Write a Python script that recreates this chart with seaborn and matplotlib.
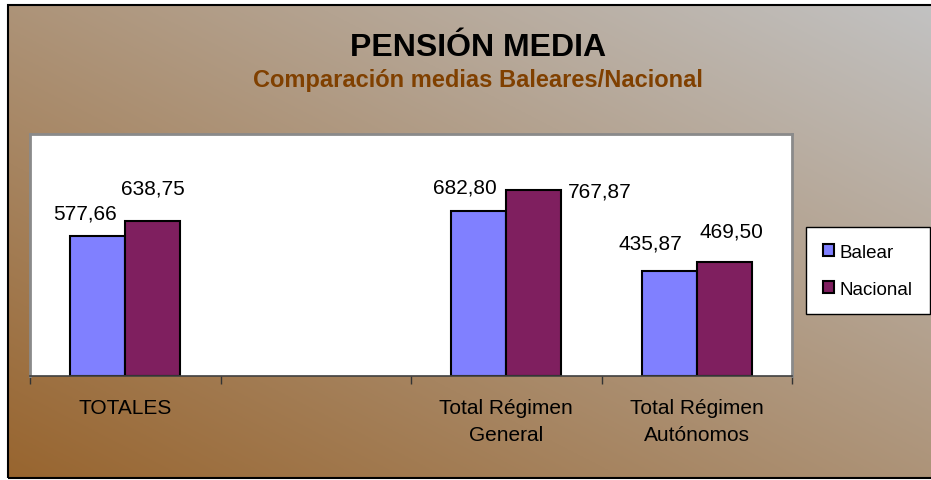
import numpy as np
import pandas as pd
import matplotlib
matplotlib.use("Agg")
import matplotlib.pyplot as plt
import seaborn as sns
from matplotlib.colors import to_rgb
from matplotlib.patches import Rectangle

# ---- data ----
categories = ["TOTALES", " ", "Total Régimen\nGeneral", "Total Régimen\nAutónomos"]
series = ["Balear", "Nacional"]
balear = [577.66, np.nan, 682.80, 435.87]
nacional = [638.75, np.nan, 767.87, 469.50]

title = "PENSIÓN MEDIA"
subtitle = "Comparación medias Baleares/Nacional"

# ---- style ----
sns.set_theme(style="white")
plt.rcParams["font.family"] = ["Liberation Sans", "DejaVu Sans"]

colors = ["#8080FF", "#7F1F5F"]
# label offsets (pixels) relative to the top centre of each bar, by category index
label_offsets = [
    {0: (-13, 18), 2: (-14, 18), 3: (-19, 22)},
    {0: (0, 28), 2: (66, -6), 3: (7, 26)},
]

W, H = 931, 481
fig = plt.figure(figsize=(W / 100, H / 100), dpi=100, facecolor="white")

# gradient background
bg = fig.add_axes([8 / W, 2 / H, (W - 8) / W, 473 / H])
n = 300
xx, yy = np.meshgrid(np.linspace(0, 1, n), np.linspace(0, 1, n))
t = (xx + yy) / 2.0
c0 = np.array(to_rgb("#98652F"))
c1 = np.array(to_rgb("#C2C2C2"))
img = c0[None, None, :] * (1 - t[..., None]) + c1[None, None, :] * t[..., None]
bg.imshow(img, origin="lower", extent=[0, 1, 0, 1], aspect="auto")
bg.axis("off")
fig.add_artist(Rectangle((8 / W, 2 / H), 2, 473 / H, transform=fig.transFigure,
                         fill=False, edgecolor="black", linewidth=1.5))

# main axes
ax = fig.add_axes([30 / W, (481 - 377) / H, (792 - 30) / W, (377 - 135) / H])
ax.set_facecolor("white")

df = pd.DataFrame({
    "categoria": categories * 2,
    "serie": [series[0]] * len(categories) + [series[1]] * len(categories),
    "valor": balear + nacional,
})

sns.barplot(data=df, x="categoria", y="valor", hue="serie", order=categories,
            hue_order=series, palette=colors, width=0.577, gap=0,
            edgecolor="black", linewidth=1.5, saturation=1, errorbar=None,
            ax=ax)

# value labels
for ci, cont in enumerate(ax.containers):
    for bar in cont:
        h = bar.get_height()
        if np.isnan(h):
            continue
        xc = bar.get_x() + bar.get_width() / 2
        idx = int(round(xc))
        dx, dy = label_offsets[ci].get(idx, (0, 18))
        ax.annotate(f"{h:.2f}".replace(".", ","), xy=(xc, h),
                    xytext=(dx, dy), textcoords="offset pixels",
                    ha="center", va="baseline", fontsize=15, color="black")

ax.set_xlim(-0.5, len(categories) - 0.5)
ax.set_ylim(0, 1000)
ax.set_yticks([])
ax.set_xlabel("")
ax.set_ylabel("")

ax.set_xticks(np.arange(-0.5, len(categories) + 0.5, 1), minor=True)
ax.tick_params(axis="x", which="minor", bottom=True, length=6, width=1,
               color="#333333", direction="out")
ax.tick_params(axis="x", which="major", bottom=False, length=0, pad=16,
               labelsize=15, labelcolor="black")
for tl in ax.get_xticklabels():
    tl.set_linespacing(1.55)
    tl.set_multialignment("center")

for s in ["top", "left", "right"]:
    ax.spines[s].set_color("#8a8a8a")
    ax.spines[s].set_linewidth(2)
ax.spines["bottom"].set_color("#404040")
ax.spines["bottom"].set_linewidth(1.2)

# legend
handles, labels = ax.get_legend_handles_labels()
if ax.get_legend() is not None:
    ax.get_legend().remove()
leg = fig.legend(handles, labels, loc="upper left",
                 bbox_to_anchor=(806 / W, 1 - 228 / H), borderaxespad=0,
                 frameon=True, fancybox=False, edgecolor="black",
                 facecolor="white", framealpha=1, fontsize=13.5,
                 handlelength=0.6, handleheight=0.6, handletextpad=0.3,
                 labelspacing=1.05, borderpad=0.9, labelcolor="black")
leg.get_frame().set_linewidth(1)

# titles
fig.text(478 / W, 1 - 48 / H, title, ha="center", va="center",
         fontsize=23, fontweight="bold", color="black")
fig.text(478 / W, 1 - 81 / H, subtitle, ha="center", va="center",
         fontsize=17, fontweight="bold", color="#804000")

fig.savefig("out.png", dpi=100)
